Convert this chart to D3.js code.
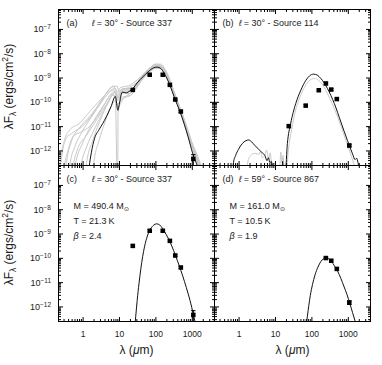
<!DOCTYPE html>
<html><head><meta charset="utf-8">
<script src="https://cdn.jsdelivr.net/npm/d3@7"></script>
<style>
body{margin:0;background:#fff}
svg{display:block}
text{font-family:"Liberation Sans",Arial,sans-serif;fill:#1a1a1a}
</style></head>
<body><svg id="chart" width="382" height="365"></svg>
<script>
// ---------------- DATA ----------------
// tick values and labels
const xMajor = [1, 10, 100, 1000];
const xTickLabels = ["1", "10", "100", "1000"];
const xMinor = [0.3,0.4,0.5,0.6,0.7,0.8,0.9,2,3,4,5,6,7,8,9,20,30,40,50,60,70,80,90,200,300,400,500,600,700,800,900,2000,3000,4000];
const yMajor = [1e-12, 1e-11, 1e-10, 1e-9, 1e-8, 1e-7];
const yTickExp = ["\u221212", "\u221211", "\u221210", "\u22129", "\u22128", "\u22127"];
const yMinorMant = [2,3,4,5,6,7,8,9];
const yMinorExp = [-13,-12,-11,-10,-9,-8,-7];

// photometry (wavelength in µm, lambda F_lambda in erg/cm^2/s)
const bandsAC = [24, 70, 160, 250, 350, 500, 1100];
const fluxAC  = [3.1e-10, 1.3e-9, 1.3e-9, 5.0e-10, 1.25e-10, 4.0e-11, 4.5e-13];
const errAC   = [3e-11, 1.3e-10, 1.3e-10, 5e-11, 1.3e-11, 4e-12, 2.2e-13];
const bandsB  = [24, 70, 160, 250, 350, 500, 1100];
const fluxB   = [1.0e-11, 7.0e-11, 3.0e-10, 5.7e-10, 3.2e-10, 1.3e-10, 1.6e-12];
const errB    = [1e-12, 7e-12, 3e-11, 6e-11, 3e-11, 1.3e-11, 2e-13];
const bandsD  = [250, 350, 500, 1100];
const fluxD   = [9.8e-11, 7.6e-11, 3.5e-11, 1.45e-12];
const errD    = [1e-11, 8e-12, 4e-12, 2.5e-13];

// model curves, pairs of [log10 lambda(µm), log10 lambdaF_lambda]
const bestA = [[0.16,-13],[0.18,-12.7],[0.24,-12.1],[0.33,-11.5],[0.45,-11.15],[0.55,-10.9],[0.65,-10.62],[0.78,-10.2],[0.9,-9.78],[0.97,-10.35],[1.02,-10.0],[1.09,-9.6],[1.2,-9.63],[1.3,-9.55],[1.4,-9.42],[1.5,-9.22],[1.65,-8.98],[1.8,-8.76],[1.95,-8.6],[2.05,-8.57],[2.15,-8.63],[2.25,-8.85],[2.4,-9.32],[2.53,-9.86],[2.67,-10.38],[2.8,-10.95],[2.9,-11.45],[3.02,-12.1],[3.13,-12.55],[3.2,-12.8]];
const grayA1 = [[-0.64,-13],[-0.62,-12.62],[-0.5,-11.6],[-0.35,-11.15],[-0.1,-10.9],[0.2,-10.4],[0.5,-9.9],[0.75,-9.55],[0.9,-9.45],[0.98,-9.8],[1.08,-9.5],[1.3,-9.5],[1.55,-9.1],[1.8,-8.7],[2.0,-8.5],[2.15,-8.55],[2.3,-8.95],[2.5,-9.7],[2.7,-10.45],[2.9,-11.35],[3.1,-12.2],[3.24,-12.8]];
const grayA2 = [[-0.47,-13],[-0.45,-12.62],[-0.3,-11.6],[-0.1,-11.1],[0.2,-10.6],[0.5,-10.0],[0.8,-9.4],[0.95,-9.35],[1.0,-9.6],[1.1,-9.45],[1.35,-9.45],[1.6,-9.0],[1.85,-8.6],[2.03,-8.45],[2.2,-8.55],[2.35,-8.9],[2.55,-9.75],[2.75,-10.55],[2.95,-11.5],[3.15,-12.2],[3.3,-12.8]];
const grayA3 = [[-0.37,-13],[-0.35,-12.62],[-0.2,-11.8],[0.0,-11.2],[0.3,-10.5],[0.6,-9.85],[0.85,-9.5],[0.97,-9.95],[1.1,-9.6],[1.4,-9.55],[1.65,-9.05],[1.9,-8.7],[2.05,-8.6],[2.2,-8.7],[2.4,-9.2],[2.6,-9.95],[2.8,-10.75],[3.0,-11.65],[3.2,-12.5],[3.25,-12.8]];
const grayA4 = [[-0.22,-13],[-0.2,-12.62],[0.0,-11.7],[0.3,-10.8],[0.6,-10.1],[0.8,-9.7],[0.9,-9.85],[0.95,-13],[0.965,-13],[0.975,-10.45],[1.05,-9.95],[1.2,-9.8],[1.35,-9.7],[1.5,-9.3],[1.8,-8.8],[2.0,-8.6],[2.15,-8.62],[2.32,-8.98],[2.5,-9.7],[2.7,-10.5],[2.9,-11.4],[3.1,-12.3],[3.2,-12.8]];
const grayA5 = [[0.08,-13],[0.1,-12.62],[0.3,-11.5],[0.5,-10.7],[0.7,-10.05],[0.85,-9.7],[0.97,-10.1],[1.1,-9.8],[1.3,-9.75],[1.5,-9.35],[1.75,-8.85],[2.0,-8.55],[2.15,-8.55],[2.3,-8.85],[2.5,-9.6],[2.7,-10.4],[2.9,-11.3],[3.1,-12.2],[3.22,-12.8]];
const grayA6 = [[-0.62,-13],[-0.6,-12.62],[-0.45,-11.5],[-0.3,-11.3],[0.0,-11.0],[0.3,-10.45],[0.6,-9.75],[0.85,-9.35],[0.95,-9.6],[1.05,-9.4],[1.25,-9.35],[1.5,-9.1],[1.75,-8.75],[2.0,-8.45],[2.15,-8.45],[2.3,-8.8],[2.5,-9.65],[2.7,-10.5],[2.9,-11.4],[3.1,-12.25],[3.22,-12.8]];
const grayA7 = [[0.28,-13],[0.3,-12.62],[0.45,-11.6],[0.6,-10.9],[0.75,-10.3],[0.9,-9.95],[0.98,-10.2],[1.1,-9.9],[1.35,-9.6],[1.6,-9.15],[1.85,-8.75],[2.05,-8.6],[2.2,-8.7],[2.4,-9.2],[2.6,-9.95],[2.8,-10.8],[3.0,-11.7],[3.15,-12.4],[3.22,-12.8]];
const grayA8 = [[-0.27,-13],[-0.25,-12.62],[-0.15,-12.0],[0.1,-11.4],[0.4,-10.7],[0.7,-10.0],[0.88,-9.6],[0.97,-9.85],[1.08,-9.55],[1.3,-9.55],[1.55,-9.2],[1.8,-8.8],[2.02,-8.55],[2.18,-8.6],[2.35,-9.0],[2.55,-9.8],[2.75,-10.6],[2.95,-11.55],[3.15,-12.45],[3.22,-12.8]];
const grayA9 = [[-0.07,-13],[-0.05,-12.7],[0.1,-11.9],[0.3,-11.2],[0.55,-10.45],[0.8,-9.75],[0.92,-9.6],[0.98,-9.9],[1.08,-9.65],[1.3,-9.65],[1.5,-9.3],[1.75,-8.9],[1.98,-8.62],[2.12,-8.62],[2.28,-8.9],[2.45,-9.45],[2.65,-10.25],[2.85,-11.1],[3.05,-12.0],[3.22,-12.8]];
const grayA10 = [[-0.52,-13],[-0.5,-12.7],[-0.4,-12.0],[-0.25,-11.4],[-0.05,-11.25],[0.2,-11.0],[0.45,-10.5],[0.7,-9.85],[0.87,-9.55],[0.96,-9.75],[1.05,-9.5],[1.2,-9.45],[1.45,-9.25],[1.7,-8.9],[1.95,-8.55],[2.1,-8.5],[2.25,-8.7],[2.45,-9.35],[2.65,-10.15],[2.85,-11.0],[3.05,-11.95],[3.28,-12.8]];

const bestB = [[-0.17,-13],[-0.14,-12.5],[-0.08,-12.2],[0.0,-11.95],[0.1,-11.72],[0.2,-11.6],[0.28,-11.57],[0.36,-11.65],[0.45,-11.8],[0.55,-11.95],[0.65,-12.1],[0.72,-12.2],[0.78,-12.42],[0.82,-12.3],[0.86,-12.5],[0.9,-12.45],[0.95,-13],[1.19,-13],[1.21,-12.45],[1.23,-13],[1.28,-13],[1.34,-11.72],[1.43,-10.9],[1.57,-10.07],[1.71,-9.52],[1.85,-9.11],[1.95,-8.93],[2.06,-8.86],[2.16,-8.9],[2.26,-9.04],[2.44,-9.45],[2.63,-10.07],[2.81,-10.83],[2.99,-11.59],[3.13,-12.14],[3.2,-12.38],[3.24,-12.32],[3.28,-12.5],[3.33,-13]];
const grayB = [[0.21,-13],[0.25,-12.5],[0.31,-12.25],[0.38,-12.15],[0.46,-12.12],[0.55,-12.16],[0.6,-12.05],[0.65,-12.3],[0.72,-12.2],[0.77,-11.98],[0.82,-12.35],[0.87,-12.1],[0.93,-13],[1.12,-13],[1.16,-12.07],[1.19,-12.5],[1.22,-12.2],[1.26,-13],[1.31,-13],[1.36,-12.1],[1.45,-11.2],[1.55,-10.45],[1.7,-9.75],[1.85,-9.3],[2.0,-9.07],[2.08,-9.04],[2.2,-9.12],[2.35,-9.4],[2.5,-9.85],[2.65,-10.35],[2.8,-10.95],[2.95,-11.6],[3.1,-12.25],[3.22,-12.8]];

const fitC = [[1.43,-12.9],[1.46,-12.4],[1.5,-11.75],[1.55,-11.05],[1.6,-10.45],[1.65,-9.95],[1.7,-9.55],[1.78,-9.1],[1.86,-8.82],[1.95,-8.66],[2.03,-8.6],[2.12,-8.65],[2.2,-8.8],[2.3,-9.05],[2.4,-9.34],[2.5,-9.7],[2.6,-10.1],[2.7,-10.52],[2.8,-10.98],[2.9,-11.48],[3.0,-12.05],[3.04,-12.32],[3.1,-12.7]];
const fitD = [[1.86,-12.75],[1.89,-12.4],[1.93,-11.95],[1.97,-11.55],[2.03,-11.1],[2.1,-10.7],[2.18,-10.38],[2.26,-10.15],[2.33,-10.04],[2.4,-10.0],[2.47,-10.03],[2.55,-10.15],[2.63,-10.32],[2.72,-10.55],[2.81,-10.85],[2.9,-11.2],[2.98,-11.52],[3.06,-11.9],[3.13,-12.25],[3.2,-12.6],[3.24,-12.8]];

const titles = ["\u2009= 30\u00b0 - Source 337", "\u2009= 30\u00b0 - Source 114", "\u2009= 30\u00b0 - Source 337", "\u2009= 59\u00b0 - Source 867"];
const tags = ["(a)", "(b)", "(c)", "(d)"];
const massC = "490.4", tempC = "21.3", betaC = "2.4";
const massD = "161.0", tempD = "10.5", betaD = "1.9";

// ---------------- DRAW ----------------
const svg = d3.select("#chart");
const PW = 156, PH = 156;
const x = d3.scaleLog().domain([0.218, 4200]).range([0, PW]);
const y = d3.scaleLog().domain([2.4e-13, 6.3e-7]).range([PH, 0]);
const toLin = arr => arr.map(([l, f]) => [Math.pow(10, l), Math.pow(10, f)]);
const line = d3.line().x(d => x(d[0])).y(d => y(d[1])).curve(d3.curveMonotoneX);
const yMinor = [];
yMinorExp.forEach(e => yMinorMant.forEach(m => { const v = m * Math.pow(10, e); if (v > 2.4e-13 && v < 6.3e-7) yMinor.push(v); }));

const panels = [
  {ox: 58.5, oy: 9.5, tag: tags[0], title: titles[0], titleX: 33.5, gray: [grayA1,grayA2,grayA3,grayA4,grayA5,grayA6,grayA7,grayA8,grayA9,grayA10], black: [bestA], b: bandsAC, f: fluxAC, e: errAC, left: true, bottom: false},
  {ox: 214.5, oy: 9.5, tag: tags[1], title: titles[1], titleX: 24.5, gray: [grayB], black: [bestB], b: bandsB, f: fluxB, e: errB, left: false, bottom: false},
  {ox: 58.5, oy: 165.5, tag: tags[2], title: titles[2], titleX: 33.5, gray: [], black: [fitC], b: bandsAC, f: fluxAC, e: errAC, left: true, bottom: true, params: [massC, tempC, betaC]},
  {ox: 214.5, oy: 165.5, tag: tags[3], title: titles[3], titleX: 24.5, gray: [], black: [fitD], b: bandsD, f: fluxD, e: errD, left: false, bottom: true, params: [massD, tempD, betaD]}
];

panels.forEach((p, i) => {
  const g = svg.append("g").attr("transform", `translate(${p.ox},${p.oy})`);
  const cid = "clip" + i;
  g.append("clipPath").attr("id", cid).append("rect").attr("width", PW).attr("height", PH);
  const plot = g.append("g").attr("clip-path", `url(#${cid})`);

  p.gray.forEach(c => plot.append("path").attr("d", line(toLin(c)))
    .attr("fill", "none").attr("stroke", "#c8c8c8").attr("stroke-width", 1));
  p.black.forEach(c => plot.append("path").attr("d", line(toLin(c)))
    .attr("fill", "none").attr("stroke", "#111").attr("stroke-width", 1));

  // data points with error bars
  const pts = p.b.map((b, k) => ({b, f: p.f[k], e: p.e[k]}));
  const pg = plot.append("g");
  pts.forEach(d => {
    const cx = x(d.b), y1 = y(d.f + d.e), y0 = y(d.f - d.e);
    pg.append("line").attr("x1", cx).attr("x2", cx).attr("y1", y1).attr("y2", y0).attr("stroke", "#000").attr("stroke-width", 1);
    pg.append("line").attr("x1", cx - 2.2).attr("x2", cx + 2.2).attr("y1", y1).attr("y2", y1).attr("stroke", "#000").attr("stroke-width", 1);
    pg.append("line").attr("x1", cx - 2.2).attr("x2", cx + 2.2).attr("y1", y0).attr("y2", y0).attr("stroke", "#000").attr("stroke-width", 1);
    pg.append("rect").attr("x", cx - 2.25).attr("y", y(d.f) - 2.25).attr("width", 4.5).attr("height", 4.5).attr("fill", "#000");
  });

  // axes: ticks inward on all four sides
  const mk = (axis, vals, size, fmt, pad) => axis.tickValues(vals).tickSizeInner(-size).tickSizeOuter(0).tickPadding(pad || 3).tickFormat(fmt || (() => ""));
  const ax = (tr, a) => { const gg = g.append("g").attr("transform", tr).call(a); gg.select(".domain").remove(); gg.attr("color", "#000"); return gg; };
  ax(`translate(0,${PH})`, mk(d3.axisBottom(x), xMinor, 2.5));
  ax(`translate(0,0)`, mk(d3.axisTop(x), xMinor, 2.5));
  ax(`translate(0,0)`, mk(d3.axisTop(x), xMajor, 4.5));
  ax(`translate(0,0)`, mk(d3.axisLeft(y), yMinor, 2.5));
  ax(`translate(${PW},0)`, mk(d3.axisRight(y), yMinor, 2.5));
  ax(`translate(${PW},0)`, mk(d3.axisRight(y), yMajor, 4.5));
  const gb = ax(`translate(0,${PH})`, mk(d3.axisBottom(x), xMajor, 4.5, p.bottom ? ((d, k) => xTickLabels[k]) : null, 9));
  gb.attr("font-family", "Liberation Sans, Arial, sans-serif").attr("font-size", 8.5);
  gb.selectAll("text").attr("fill", "#1a1a1a");
  const gl = ax(`translate(0,0)`, mk(d3.axisLeft(y), yMajor, 4.5, p.left ? (() => "10") : null, 7.5));
  gl.attr("font-family", "Liberation Sans, Arial, sans-serif").attr("font-size", 9);
  if (p.left) {
    gl.selectAll(".tick text").each(function (d, k) {
      const t = d3.select(this).attr("fill", "#1a1a1a");
      t.text(null);
      t.append("tspan").text("10");
      t.append("tspan").attr("dy", "-0.45em").attr("font-size", 6.5).text(yTickExp[k]);
    });
  }

  // frame
  g.append("rect").attr("width", PW).attr("height", PH).attr("fill", "none").attr("stroke", "#000").attr("stroke-width", 1);

  // labels
  g.append("text").attr("x", 8).attr("y", 16.5).attr("font-size", 9).text(p.tag);
  const tt = g.append("text").attr("x", p.titleX).attr("y", 16.5).attr("font-size", 9);
  tt.append("tspan").attr("font-style", "italic").text("\u2113");
  tt.append("tspan").text(p.title);

  if (p.params) {
    const px = 15;
    const t1 = g.append("text").attr("x", px).attr("y", 43).attr("font-size", 9);
    t1.append("tspan").text("M = " + p.params[0] + " M");
    t1.append("tspan").attr("dy", 2).attr("font-size", 6).text("\u2299");
    g.append("text").attr("x", px).attr("y", 58).attr("font-size", 9).text("T = " + p.params[1] + "\u2009K");
    const t3 = g.append("text").attr("x", px).attr("y", 73).attr("font-size", 9);
    t3.append("tspan").attr("font-style", "italic").text("\u03b2");
    t3.append("tspan").text(" = " + p.params[2]);
  }

  if (p.bottom) {
    const xl = g.append("text").attr("x", PW / 2).attr("y", PH + 32).attr("text-anchor", "middle").attr("font-size", 12);
    xl.append("tspan").text("\u03bb (");
    xl.append("tspan").attr("font-style", "italic").text("\u03bc");
    xl.append("tspan").text("m)");
  }
  if (p.left) {
    const yl = g.append("text").attr("transform", `translate(${-46},${PH / 2 - 1}) rotate(-90)`).attr("text-anchor", "middle").attr("font-size", 12);
    yl.append("tspan").text("\u03bbF");
    yl.append("tspan").attr("dy", 3).attr("font-size", 8.5).text("\u03bb");
    yl.append("tspan").attr("dy", -3).text(" (ergs/cm");
    yl.append("tspan").attr("dy", -4.5).attr("font-size", 8.5).text("2");
    yl.append("tspan").attr("dy", 4.5).text("/s)");
  }
});
</script></body></html>
